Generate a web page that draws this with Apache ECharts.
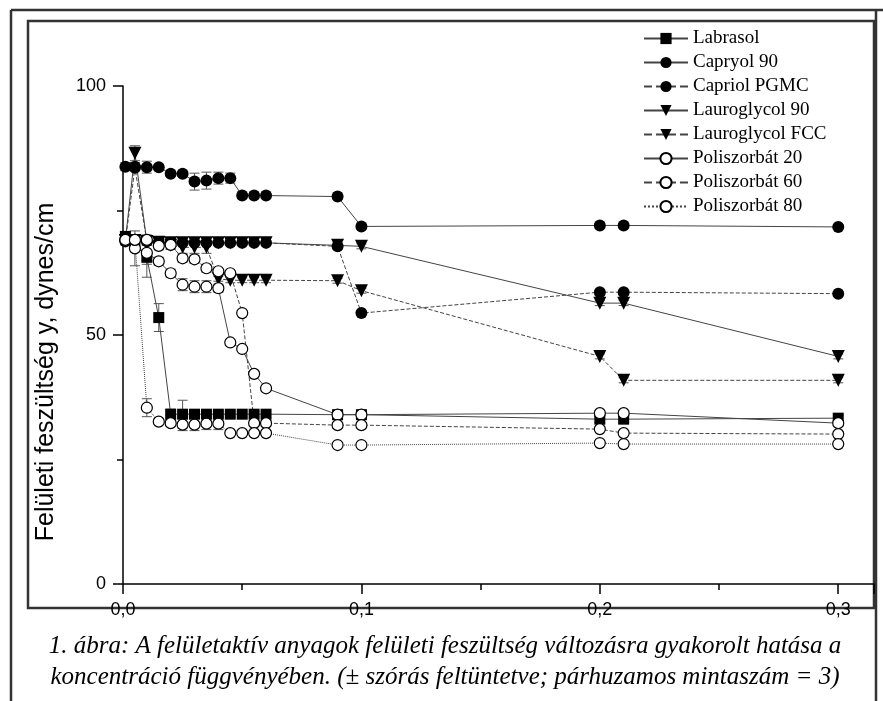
<!DOCTYPE html>
<html><head><meta charset="utf-8">
<script src="https://cdn.jsdelivr.net/npm/echarts@6/dist/echarts.min.js"></script>
<style>html,body{margin:0;padding:0;background:#fff}#c{width:883px;height:701px}</style>
</head><body><div id="c"></div>
<script>
// concentration (x)
const conc = [0.001, 0.005, 0.01, 0.015, 0.02, 0.025, 0.03, 0.035, 0.04, 0.045, 0.05, 0.055, 0.06, 0.09, 0.1, 0.2, 0.21, 0.3];
// surface tension values (dynes/cm)
const labrasol      = [69.8, 68.8, 65.6, 53.5, 34.1, 34.1, 34.1, 34.1, 34.1, 34.1, 34.1, 34.1, 34.1, 34.0, 34.0, 33.1, 33.1, 33.3];
const capryol90     = [83.8, 83.8, 83.7, 83.7, 82.4, 82.4, 80.8, 81.0, 81.5, 81.5, 78.0, 78.0, 78.0, 77.8, 71.8, 72.0, 72.0, 71.7];
const capriolPGMC   = [68.8, 83.6, 68.8, 68.6, 68.5, 68.5, 68.5, 68.5, 68.5, 68.5, 68.5, 68.5, 68.5, 67.8, 54.4, 58.6, 58.6, 58.3];
const lauroglycol90 = [69.0, 86.5, 68.8, 68.6, 68.5, 68.5, 68.5, 68.5, 68.5, 68.5, 68.5, 68.5, 68.5, 68.0, 67.8, 56.4, 56.4, 45.7];
const lauroglycolFCC= [69.0, 69.0, 68.8, 68.5, 68.0, 67.6, 67.6, 67.6, 61.3, 61.0, 61.0, 61.0, 61.0, 60.9, 58.9, 45.7, 40.9, 40.9];
const poli20        = [69.1, 67.4, 66.5, 64.8, 62.4, 60.1, 59.7, 59.7, 59.4, 48.5, 47.2, 42.2, 39.3, 34.0, 34.0, 34.3, 34.3, 32.3];
const poli60        = [69.1, 69.1, 69.1, 67.9, 68.1, 65.4, 65.2, 63.4, 62.8, 62.4, 54.4, 32.3, 32.3, 31.9, 31.9, 31.1, 30.3, 30.1];
const poli80        = [69.1, 69.1, 35.4, 32.6, 32.3, 32.0, 32.0, 32.2, 32.2, 30.3, 30.3, 30.3, 30.3, 27.9, 27.9, 28.3, 28.1, 28.1];
// standard deviations (error bars)
const errLabrasol   = [0.8, 0.8, 4.0, 2.8, 1.0, 2.8, 0.5, 0.5, 0.5, 0.5, 0.5, 0.5, 0.5, 0.5, 0.5, 0.5, 0.5, 0.5];
const errCapryol90  = [0.8, 0.8, 1.2, 0.5, 0.5, 0.5, 1.7, 1.7, 1.2, 1.0, 0.5, 0.5, 0.5, 0.5, 0.5, 0.5, 0.5, 0.5];
const errLauro90    = [0.5, 1.5, 0.8, 0.5, 0.5, 0.5, 0.5, 0.5, 0.5, 0.5, 0.5, 0.5, 0.5, 0.5, 0.5, 0.5, 0.5, 0.5];
const errLauroFCC   = [0.5, 0.5, 0.5, 0.5, 0.8, 1.2, 1.2, 1.2, 0.5, 0.5, 0.5, 0.5, 0.5, 0.5, 0.5, 0.5, 0.5, 0.5];
const errPoli20     = [1.0, 3.5, 2.3, 0.8, 0.8, 1.2, 1.2, 1.2, 0.8, 0.5, 0.5, 0.5, 0.5, 0.5, 0.5, 0.5, 0.5, 0.5];
const errPoli60     = [1.0, 1.0, 1.0, 0.8, 0.8, 0.8, 0.8, 0.8, 0.5, 0.5, 0.5, 0.5, 0.5, 0.5, 0.5, 0.5, 0.5, 0.5];
const errPoli80     = [0.5, 0.5, 1.8, 0.5, 0.5, 1.2, 1.2, 1.2, 1.2, 0.5, 0.5, 0.5, 0.5, 0.5, 0.5, 0.5, 0.5, 0.5];
const xTicks = ['0,0', '0,1', '0,2', '0,3'];
const names = ['Labrasol', 'Capryol 90', 'Capriol PGMC', 'Lauroglycol 90', 'Lauroglycol FCC', 'Poliszorbát 20', 'Poliszorbát 60', 'Poliszorbát 80'];

const chart = echarts.init(document.getElementById('c'), null, {renderer: 'canvas'});
const pair = v => conc.map((x, i) => [x, v[i]]);

function lineSeries(name, vals, symbol, filled, ltype, size) {
  return {
    type: 'line', name: name, data: pair(vals), symbol: symbol,
    symbolSize: size, symbolRotate: symbol === 'triangle' ? 180 : 0,
    showAllSymbol: true, z: 3,
    lineStyle: {color: '#444', width: 1, type: ltype},
    itemStyle: {color: filled ? '#000' : '#fff', borderColor: '#000', borderWidth: filled ? 0 : 1.2},
    emphasis: {disabled: true}, animation: false
  };
}
function errSeries(vals, errs) {
  return {
    type: 'custom', silent: true, z: 2, animation: false,
    data: conc.map((x, i) => [x, vals[i], errs[i]]),
    renderItem(params, api) {
      const x = api.value(0), y = api.value(1), e = api.value(2);
      const t = api.coord([x, y + e]), b = api.coord([x, y - e]);
      const w = 5, st = {stroke: '#555', lineWidth: 1};
      return {type: 'group', children: [
        {type: 'line', shape: {x1: t[0], y1: t[1], x2: b[0], y2: b[1]}, style: st},
        {type: 'line', shape: {x1: t[0] - w, y1: t[1], x2: t[0] + w, y2: t[1]}, style: st},
        {type: 'line', shape: {x1: b[0] - w, y1: b[1], x2: b[0] + w, y2: b[1]}, style: st}
      ]};
    }
  };
}

const option = {
  animation: false,
  backgroundColor: '#fff',
  grid: {left: 123, top: 86, width: 751, height: 498, containLabel: false},
  xAxis: {
    type: 'value', min: 0, max: 0.315, interval: 0.1,
    axisLine: {lineStyle: {color: '#000', width: 1.5}},
    axisTick: {length: 10, lineStyle: {color: '#000', width: 1.5}},
    minorTick: {show: true, splitNumber: 2, length: 6, lineStyle: {color: '#000', width: 1.5}},
    splitLine: {show: false},
    axisLabel: {margin: 17, fontFamily: 'Liberation Sans', fontSize: 18, color: '#000', showMaxLabel: false,
      formatter: v => { const k = Math.round(v * 10); return Math.abs(v * 10 - k) < 1e-6 ? (xTicks[k] || '') : ''; }}
  },
  yAxis: {
    type: 'value', min: 0, max: 100, interval: 50,
    axisLine: {show: true, lineStyle: {color: '#000', width: 1.5}},
    axisTick: {show: true, length: 10, lineStyle: {color: '#000', width: 1.5}},
    minorTick: {show: true, splitNumber: 2, length: 6, lineStyle: {color: '#000', width: 1.5}},
    splitLine: {show: false},
    axisLabel: {margin: 17, fontFamily: 'Liberation Sans', fontSize: 18, color: '#000'}
  },
  legend: {
    data: names, orient: 'vertical', left: 638, top: 24,
    itemWidth: 44, itemHeight: 14, itemGap: 5,
    textStyle: {fontFamily: 'Liberation Serif', fontSize: 19, color: '#000'},
    selectedMode: false
  },
  graphic: [
    {type: 'rect', shape: {x: 28, y: 21, width: 846, height: 587}, style: {fill: 'none', stroke: '#333', lineWidth: 2.5}, silent: true},
    {type: 'line', shape: {x1: 11, y1: 10, x2: 883, y2: 10}, style: {stroke: '#333', lineWidth: 2.5}, silent: true},
    {type: 'line', shape: {x1: 11, y1: 10, x2: 11, y2: 701}, style: {stroke: '#333', lineWidth: 2.5}, silent: true},
    {type: 'line', shape: {x1: 876, y1: 10, x2: 876, y2: 701}, style: {stroke: '#333', lineWidth: 2.5}, silent: true},
    {type: 'text', x: 46, y: 372, rotation: Math.PI / 2, silent: true,
      style: {text: 'Felületi feszültség y, dynes/cm', font: '25px "Liberation Sans"', fill: '#000', textAlign: 'center', textVerticalAlign: 'middle'}},
    {type: 'text', silent: true, x: 445, y: 646,
      style: {text: '1. ábra: A felületaktív anyagok felületi feszültség változásra gyakorolt hatása a', font: 'italic 25px "Liberation Serif"', fill: '#000', textAlign: 'center', textVerticalAlign: 'middle'}},
    {type: 'text', silent: true, x: 445, y: 677,
      style: {text: 'koncentráció függvényében. (± szórás feltüntetve; párhuzamos mintaszám = 3)', font: 'italic 25px "Liberation Serif"', fill: '#000', textAlign: 'center', textVerticalAlign: 'middle'}}
  ],
  series: [
    errSeries(labrasol, errLabrasol),
    errSeries(capryol90, errCapryol90),
    errSeries(lauroglycol90, errLauro90),
    errSeries(lauroglycolFCC, errLauroFCC),
    errSeries(poli20, errPoli20),
    errSeries(poli60, errPoli60),
    errSeries(poli80, errPoli80),
    lineSeries('Labrasol', labrasol, 'rect', true, 'solid', 11),
    lineSeries('Capryol 90', capryol90, 'circle', true, 'solid', 12),
    lineSeries('Capriol PGMC', capriolPGMC, 'circle', true, 'dashed', 12),
    lineSeries('Lauroglycol 90', lauroglycol90, 'triangle', true, 'solid', 13),
    lineSeries('Lauroglycol FCC', lauroglycolFCC, 'triangle', true, 'dashed', 13),
    lineSeries('Poliszorbát 20', poli20, 'circle', false, 'solid', 11),
    lineSeries('Poliszorbát 60', poli60, 'circle', false, 'dashed', 11),
    lineSeries('Poliszorbát 80', poli80, 'circle', false, 'dotted', 11)
  ]
};
chart.setOption(option);
</script></body></html>
